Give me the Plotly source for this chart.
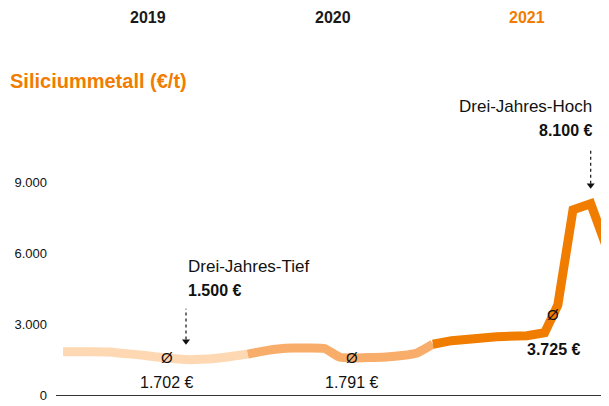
import numpy as np
import pandas as pd
import plotly.graph_objects as go

# price of silicon metal, EUR per tonne
dates_2019 = ['2019-01-01', '2019-02-01', '2019-03-01', '2019-04-01', '2019-05-01', '2019-06-01',
              '2019-07-01', '2019-08-01', '2019-09-01', '2019-10-01', '2019-11-01', '2019-12-01']
values_2019 = [1830, 1830, 1830, 1820, 1760, 1700, 1620, 1560, 1500, 1510, 1560, 1640]

dates_2020 = ['2020-01-01', '2020-02-01', '2020-03-01', '2020-04-01', '2020-05-01', '2020-06-01',
              '2020-07-01', '2020-08-01', '2020-09-01', '2020-10-01', '2020-11-01', '2020-12-01']
values_2020 = [1730, 1860, 1950, 1990, 1990, 1970, 1600, 1570, 1590, 1610, 1670, 1780]

dates_2021 = ['2021-01-01', '2021-02-07', '2021-05-07', '2021-07-06', '2021-08-10',
              '2021-09-05', '2021-10-05', '2021-11-09', '2021-12-10']
values_2021 = [2150, 2300, 2470, 2510, 2640, 3810, 7840, 8100, 6280]

years = ['2019', '2020', '2021']
year_colors = ['#FDD8B3', '#F9AD6B', '#F07D00']
year_label_dates = ['2019-06-18', '2020-06-18', '2021-07-07']
year_label_colors = ['#1a1a1a', '#1a1a1a', '#F07D00']

avg_dates = ['2019-07-25', '2020-07-25', '2021-08-27']
avg_values = [1702, 1791, 3725]

low_date, low_value = '2019-09-01', 1500
high_date, high_value = '2021-11-09', 8100

FONT = 'Liberation Sans, Arial, sans-serif'


def euro(v):
    return f"{v:,}".replace(',', '.') + ' €'


segments = [
    (dates_2019 + dates_2020[:1], values_2019 + values_2020[:1], 'spline'),
    (dates_2020 + dates_2021[:1], values_2020 + values_2021[:1], 'spline'),
    (dates_2021, values_2021, 'linear'),
]

fig = go.Figure()
for (d, v, shp), col in zip(segments, year_colors):
    fig.add_trace(go.Scatter(x=pd.to_datetime(d), y=v, mode='lines',
                             line=dict(color=col, width=9, shape=shp, smoothing=0.4),
                             hoverinfo='skip', showlegend=False))

# the full series, used to put the Ø marks onto the line
all_dates = pd.to_datetime(dates_2019 + dates_2020 + dates_2021)
all_values = values_2019 + values_2020 + values_2021
t_all = all_dates.astype('int64')

for i, (d, avg) in enumerate(zip(avg_dates, avg_values)):
    t = pd.Timestamp(d).value
    y_on_line = float(np.interp(t, t_all, all_values))
    fig.add_annotation(x=d, y=y_on_line, text='Ø', showarrow=False,
                       font=dict(family=FONT, size=15, color='#111'))
    label = euro(avg)
    if i == 2:
        label = '<b>' + label + '</b>'
        shift = -35
    else:
        shift = -25
    fig.add_annotation(x=d, y=y_on_line, text=label, showarrow=False, yshift=shift,
                       font=dict(family=FONT, size=16, color='#111'))

# low / high callouts with dotted arrows
fig.add_annotation(x=low_date, y=low_value, text='Drei-Jahres-Tief', showarrow=False,
                   xanchor='left', yshift=93, xshift=0,
                   font=dict(family=FONT, size=17, color='#111'))
fig.add_annotation(x=low_date, y=low_value, text='<b>' + euro(low_value) + '</b>',
                   showarrow=False, xanchor='left', yshift=69, xshift=0,
                   font=dict(family=FONT, size=16, color='#111'))
fig.add_annotation(x=high_date, y=high_value, text='Drei-Jahres-Hoch', showarrow=False,
                   xanchor='right', yshift=97, xshift=3,
                   font=dict(family=FONT, size=17, color='#111'))
fig.add_annotation(x=high_date, y=high_value, text='<b>' + euro(high_value) + '</b>',
                   showarrow=False, xanchor='right', yshift=73, xshift=3,
                   font=dict(family=FONT, size=16, color='#111'))

for d, v, top, bottom in [(low_date, low_value, 2150, 700), (high_date, high_value, 2300, 700)]:
    fig.add_shape(type='line', x0=d, x1=d, y0=v + bottom + 150, y1=v + top,
                  line=dict(color='#111', width=1.2, dash='dot'))
    fig.add_trace(go.Scatter(x=[pd.Timestamp(d)], y=[v + bottom + 80], mode='markers',
                             marker=dict(symbol='triangle-down', size=7, color='#111'),
                             hoverinfo='skip', showlegend=False))

# year headers above the plot
for yr, d, col in zip(years, year_label_dates, year_label_colors):
    fig.add_annotation(x=d, y=1.0, yref='paper', yshift=81, text='<b>' + yr + '</b>',
                       showarrow=False, font=dict(family=FONT, size=16, color=col))

fig.add_annotation(x=0, xref='paper', y=1.0, yref='paper', text='<b>Siliciummetall (€/t)</b>',
                   showarrow=False, xanchor='left', yanchor='middle', xshift=-48, yshift=7,
                   font=dict(family=FONT, size=20, color='#F07D00'))

# the page adds an 8px body margin, so the margins here are 8px smaller
fig.update_layout(
    width=609, height=406,
    margin=dict(l=48, r=0, t=80, b=19),
    paper_bgcolor='white', plot_bgcolor='white',
    separators=',.',
    font=dict(family=FONT, size=13, color='#111'),
)
fig.update_xaxes(range=['2018-12-18', '2021-12-31'], showgrid=False, showticklabels=False,
                 zeroline=False, showline=False)
fig.update_yaxes(range=[0, 13000], tickvals=[0, 3000, 6000, 9000], tickformat=',d',
                 showgrid=False, zeroline=True, zerolinecolor='#333', zerolinewidth=1.2,
                 ticks='', tickfont=dict(size=13, color='#111'), ticklabelstandoff=8)

fig.write_html("out.html")
